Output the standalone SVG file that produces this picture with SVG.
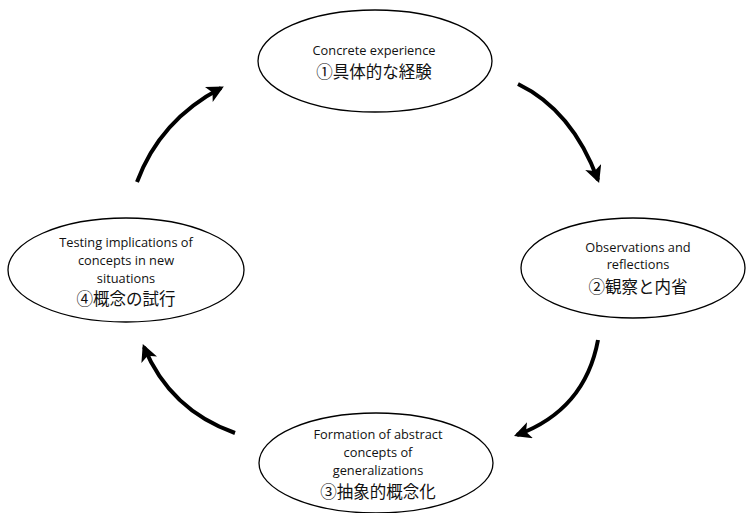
<svg xmlns="http://www.w3.org/2000/svg" width="747" height="513" viewBox="0 0 747 513">
<defs>
<marker id="ah" viewBox="0 0 16 16" refX="13" refY="8" markerWidth="17" markerHeight="17" markerUnits="userSpaceOnUse" orient="auto">
<path d="M0,0 L16,8 L0,16 L4,8 z" fill="#000"/>
</marker>
<style>
.node ellipse { fill: #fff; stroke: #000; stroke-width: 1.3; }
.en { font-family: "Open Sans", "Liberation Sans", sans-serif; font-size: 12.8px; fill: #111; text-anchor: middle; }
.ja { font-family: "Noto Sans CJK JP", sans-serif; font-size: 16.5px; fill: #111; text-anchor: middle; }
.arr { fill: none; stroke: #000; stroke-width: 4; marker-end: url(#ah); }
</style>
</defs>
<rect width="747" height="513" fill="#fff"/>
<g id="connectors">
<path class="arr" d="M137,182 Q160,120 221,88"/>
<path class="arr" d="M518,84 Q572,110 598,180"/>
<path class="arr" d="M598,340 Q585,410 517,435"/>
<path class="arr" d="M235,433 Q170,410 144,347"/>
</g>
<g id="node1" class="node">
<ellipse cx="375" cy="61" rx="117" ry="51"/>
<text class="en" x="374" y="55">Concrete experience</text>
<text class="ja" x="374" y="78">①具体的な経験</text>
</g>
<g id="node2" class="node">
<ellipse cx="633" cy="268" rx="112" ry="50"/>
<text class="en" x="638" y="252">Observations and</text>
<text class="en" x="638" y="269">reflections</text>
<text class="ja" x="638" y="293">②観察と内省</text>
</g>
<g id="node3" class="node">
<ellipse cx="376" cy="463" rx="117" ry="50"/>
<text class="en" x="378" y="439">Formation of abstract</text>
<text class="en" x="378" y="457">concepts of</text>
<text class="en" x="378" y="475">generalizations</text>
<text class="ja" x="378" y="498">③抽象的概念化</text>
</g>
<g id="node4" class="node">
<ellipse cx="126" cy="270" rx="118" ry="52"/>
<text class="en" x="126" y="247">Testing implications  of</text>
<text class="en" x="126" y="265">concepts in new</text>
<text class="en" x="126" y="283">situations</text>
<text class="ja" x="126" y="305">④概念の試行</text>
</g>
</svg>
